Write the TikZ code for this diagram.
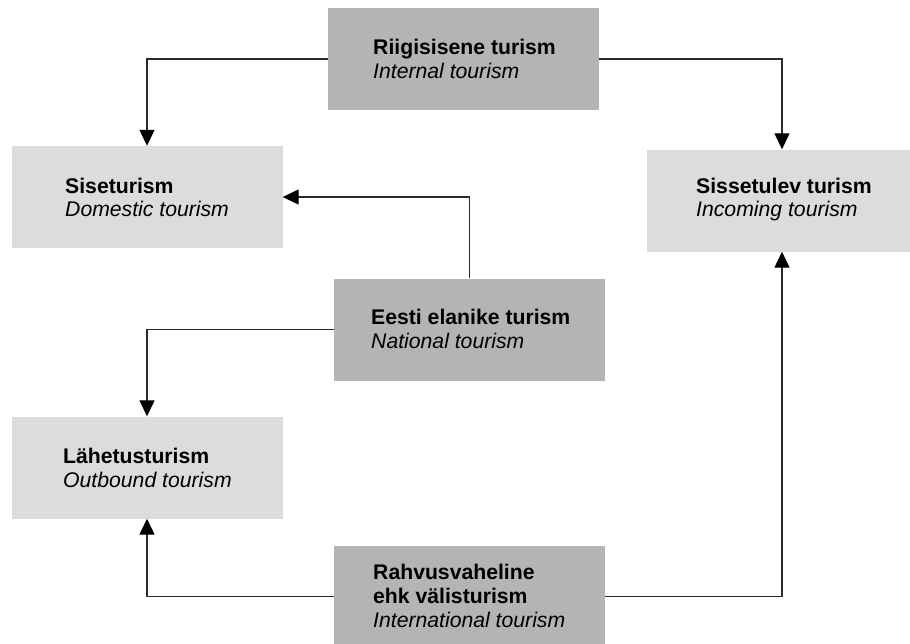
\documentclass[tikz,border=0pt]{standalone}
\usepackage{fontspec}
\setmainfont{Liberation Sans}
\usetikzlibrary{arrows.meta}
\definecolor{darkbox}{HTML}{B4B4B4}
\definecolor{lightbox}{HTML}{DCDCDC}
\definecolor{linecol}{HTML}{2A2A2A}
\begin{document}
\begin{tikzpicture}[x=1pt,y=-1pt,
  boxbase/.style={draw=none,inner sep=0pt,minimum width=271pt,minimum height=102pt},
  darkb/.style={boxbase,fill=darkbox},
  lightb/.style={boxbase,fill=lightbox},
  bold/.style={anchor=base west,inner sep=0pt,font=\fontsize{21.2}{24}\selectfont\bfseries},
  ital/.style={anchor=base west,inner sep=0pt,font=\fontsize{21.2}{24}\selectfont\itshape},
  conn/.style={draw=linecol,line width=1.3pt,-{Triangle[length=16pt,width=15pt,color=black]}}]
\useasboundingbox[fill=white] (0,0) rectangle (910,643);
\begin{scope}
\clip (0,0) rectangle (910,643);
\node[darkb] (b1) at (463.5,59) {};
\node[lightb] (b2) at (147,197) {};
\node[lightb] (b3) at (782,200.5) {};
\node[darkb] (b4) at (469.5,329.5) {};
\node[lightb] (b5) at (147,467.5) {};
\node[darkb] (b6) at (469.5,596.5) {};
\end{scope}

\node[bold] (t1a) at (373,54) {Riigisisene turism};
\node[ital] (t1b) at (373,78) {Internal tourism};
\node[bold] (t2a) at (65,193) {Siseturism};
\node[ital] (t2b) at (65,216) {Domestic tourism};
\node[bold] (t3a) at (696,193) {Sissetulev turism};
\node[ital] (t3b) at (696,216) {Incoming tourism};
\node[bold] (t4a) at (371,324) {Eesti elanike turism};
\node[ital] (t4b) at (371,348) {National tourism};
\node[bold] (t5a) at (63,463) {Lähetusturism};
\node[ital] (t5b) at (63,487) {Outbound tourism};
\node[bold] (t6a) at (373,579) {Rahvusvaheline};
\node[bold] (t6b) at (373,603) {ehk välisturism};
\node[ital] (t6c) at (373,627) {International tourism};

\draw[conn] (b1.west) -| (b2.north);
\draw[conn] (b1.east) -| (b3.north);
\draw[conn] (b4.north) |- (b2.east);
\draw[conn] (b4.west) -| (b5.north);
\draw[conn] (b6.west) -| (b5.south);
\draw[conn] (b6.east) -| (b3.south);
\end{tikzpicture}
\end{document}
